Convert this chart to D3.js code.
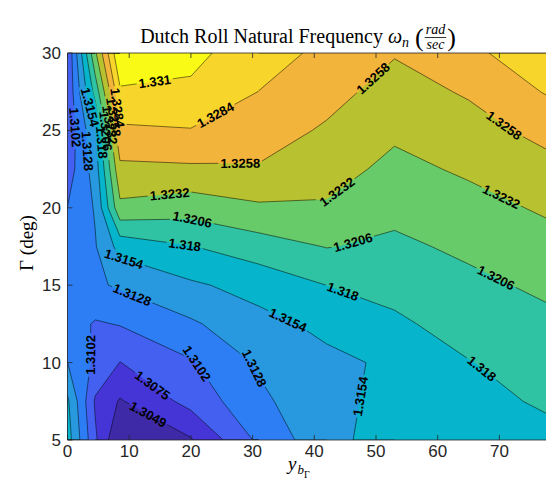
<!DOCTYPE html>
<html><head><meta charset="utf-8">
<script src="https://cdn.jsdelivr.net/npm/d3@7"></script>
<style>body{margin:0;background:#fff} svg{display:block}</style>
</head><body><svg id="c" width="546" height="484"></svg>
<script>
// ---- data ----
const xGrid = [0, 4.5, 8.5, 20, 31, 42, 53, 65, 80];
const yGrid = [5, 7.5, 10, 12.5, 15, 17.5, 20, 22.5, 25, 27.5, 30];
const zRow05  = [1.3166, 1.3080, 1.3022, 1.3047, 1.3107, 1.3146, 1.3166, 1.3170, 1.3176];
const zRow075 = [1.3158, 1.3072, 1.3047, 1.3084, 1.3122, 1.3147, 1.3161, 1.3174, 1.3184];
const zRow10  = [1.3128, 1.3096, 1.3075, 1.3099, 1.3131, 1.3148, 1.3158, 1.3179, 1.3193];
const zRow125 = [1.3115, 1.3099, 1.3103, 1.3124, 1.3146, 1.3160, 1.3176, 1.3189, 1.3202];
const zRow15  = [1.3110, 1.3124, 1.3131, 1.3150, 1.3163, 1.3180, 1.3187, 1.3200, 1.3213];
const zRow175 = [1.3106, 1.3126, 1.3163, 1.3179, 1.3194, 1.3207, 1.3201, 1.3211, 1.3225];
const zRow20  = [1.3102, 1.3130, 1.3226, 1.3217, 1.3228, 1.3229, 1.3213, 1.3223, 1.3238];
const zRow225 = [1.3088, 1.3140, 1.3252, 1.3254, 1.3256, 1.3243, 1.3225, 1.3236, 1.3253];
const zRow25  = [1.3082, 1.3150, 1.3280, 1.3283, 1.3270, 1.3255, 1.3237, 1.3248, 1.3270];
const zRow275 = [1.3080, 1.3190, 1.3306, 1.3306, 1.3284, 1.3267, 1.3248, 1.3261, 1.3291];
const zRow30  = [1.3078, 1.3228, 1.3337, 1.3317, 1.3296, 1.3278, 1.3260, 1.3279, 1.3303];
const zRows = [zRow05, zRow075, zRow10, zRow125, zRow15, zRow175, zRow20, zRow225, zRow25, zRow275, zRow30];

const levels = [1.30494, 1.30755, 1.31016, 1.31277, 1.31538, 1.31799, 1.32060, 1.32321, 1.32582, 1.32843, 1.33104];
const levelText = ["1.3049","1.3075","1.3102","1.3128","1.3154","1.318","1.3206","1.3232","1.3258","1.3284","1.331"];
const fillColors = ["#3e2aa6","#4635d6","#4460f0","#2d7ef5","#2898df","#06b4cb","#2fc3a3","#68cb6a","#b8c12f","#f3b43b","#f8d52b","#f9fa15"];
const xTicks = [0,10,20,30,40,50,60,70];
const yTicks = [5,10,15,20,25,30];
// label spots: [level index, approx x, approx y]
const labelSpots = [[10,14.2,28.0],[9,22.6,27.0],[8,49.0,28.6],[8,70.9,25.4],[8,28.0,22.5],
  [7,43.4,21.2],[7,70.9,21.2],[7,16.6,20.7],[6,20.3,19.4],[6,46.6,17.3],[6,70.1,16.0],
  [5,19.0,17.6],[5,45.0,15.0],[5,67.7,9.9],[4,9.3,16.9],[4,35.3,12.4],[4,47.8,7.8],
  [3,10.5,14.4],[3,33.1,10.2],[2,3.3,10.5],[2,22.3,10.3],[2,1.2,25.2],[1,15.0,9.2],[0,13.4,6.9],
  [4,3.6,26.5],[3,4.5,23.7],[9,8.8,26.5],[8,8.2,25.9],[7,7.7,25.4],[6,7.4,25.0],[5,7.7,24.3]];

// ---- layout ----
const svg = d3.select("#c");
const xs = d3.scaleLinear().domain([0,80]).range([67.5,561.1]);
const ys = d3.scaleLinear().domain([5,30]).range([440,53]);
const axisColor = "#262626";

svg.append("defs").append("clipPath").attr("id","pc").append("rect")
  .attr("x",xs(0)).attr("y",ys(30)).attr("width",xs(80)-xs(0)).attr("height",ys(5)-ys(30));
const plot = svg.append("g").attr("clip-path","url(#pc)");

const nx = xGrid.length, ny = yGrid.length;
const values = [].concat(...zRows);
const cs = d3.contours().size([nx,ny]).thresholds(levels)(values);
function gx(u){const t=Math.max(0,Math.min(nx-1,u-0.5));const i=Math.min(nx-2,Math.floor(t));return xGrid[i]+(t-i)*(xGrid[i+1]-xGrid[i]);}
function gy(v){const t=Math.max(0,Math.min(ny-1,v-0.5));const i=Math.min(ny-2,Math.floor(t));return yGrid[i]+(t-i)*(yGrid[i+1]-yGrid[i]);}
function P(p){return [xs(gx(p[0])), ys(gy(p[1]))];}

// fills
plot.append("rect").attr("x",xs(0)).attr("y",ys(30)).attr("width",xs(80)-xs(0)).attr("height",ys(5)-ys(30)).attr("fill",fillColors[0]);
cs.forEach((c,k)=>{
  let d="";
  c.coordinates.forEach(poly=>poly.forEach(ring=>{d+="M"+ring.map(p=>P(p).map(v=>v.toFixed(2)).join(",")).join("L")+"Z";}));
  plot.append("path").attr("d",d).attr("fill",fillColors[k+1]).attr("fill-rule","evenodd")
    .attr("stroke",fillColors[k+1]).attr("stroke-width",0.3);
});

// line segments (interior only)
function isB(a,b){return (a[0]===0&&b[0]===0)||(a[0]===nx&&b[0]===nx)||(a[1]===0&&b[1]===0)||(a[1]===ny&&b[1]===ny);}
const segs = cs.map(c=>{
  const pieces=[];
  c.coordinates.forEach(poly=>poly.forEach(ring=>{
    let cur=null;
    for(let i=0;i<ring.length-1;i++){
      const a=ring[i],b=ring[i+1];
      if(isB(a,b)){cur=null;continue;}
      if(!cur){cur=[P(a)];pieces.push(cur);}
      cur.push(P(b));
    }
  }));
  return pieces;
});

// mask for label gaps
const mask = svg.select("defs").append("mask").attr("id","lm").attr("maskUnits","userSpaceOnUse")
  .attr("x",0).attr("y",0).attr("width",546).attr("height",484);
mask.append("rect").attr("width",546).attr("height",484).attr("fill","#fff");

const lineG = plot.append("g").attr("mask","url(#lm)");
segs.forEach(pieces=>pieces.forEach(pc=>{
  lineG.append("path").attr("d","M"+pc.map(p=>p.map(v=>v.toFixed(2)).join(",")).join("L"))
    .attr("fill","none").attr("stroke","#000").attr("stroke-width",0.6).attr("stroke-opacity",0.85);
}));

// labels
const labG = plot.append("g");
labelSpots.forEach(([k,lx,ly])=>{
  const tx=xs(lx), ty=ys(ly);
  let best=null;
  segs[k].forEach(pc=>{
    for(let i=0;i<pc.length-1;i++){
      const a=pc[i],b=pc[i+1];
      const dx=b[0]-a[0],dy=b[1]-a[1];const L2=dx*dx+dy*dy; if(L2<1e-9)continue;
      let t=((tx-a[0])*dx+(ty-a[1])*dy)/L2; t=Math.max(0,Math.min(1,t));
      const px=a[0]+t*dx,py=a[1]+t*dy;const dd=(px-tx)**2+(py-ty)**2;
      if(!best||dd<best.dd)best={dd,px,py,ang:Math.atan2(dy,dx)*180/Math.PI};
    }
  });
  if(!best)return;
  let a=best.ang; if(a>90)a-=180; if(a<=-90)a+=180;
  const t=labG.append("text").attr("transform",`translate(${best.px},${best.py}) rotate(${a})`)
    .attr("text-anchor","middle").attr("dy","0.36em")
    .style("font-family","'Liberation Sans', Arial, sans-serif").style("font-size","13px").style("font-weight","bold")
    .attr("fill","#000").text(levelText[k]);
  const w=t.node().getComputedTextLength();
  mask.append("rect").attr("x",-w/2-2).attr("y",-6.5).attr("width",w+4).attr("height",13)
    .attr("transform",`translate(${best.px},${best.py}) rotate(${a})`).attr("fill","#000");
});

// axes box and ticks
const ax = svg.append("g").attr("stroke",axisColor).attr("stroke-width",0.8).attr("fill","none");
ax.append("line").attr("x1",xs(0)).attr("x2",546).attr("y1",ys(5)).attr("y2",ys(5));
ax.append("line").attr("x1",xs(0)).attr("x2",546).attr("y1",ys(30)).attr("y2",ys(30));
ax.append("line").attr("x1",xs(0)).attr("x2",xs(0)).attr("y1",ys(30)).attr("y2",ys(5));
xTicks.forEach(v=>{
  ax.append("line").attr("x1",xs(v)).attr("x2",xs(v)).attr("y1",ys(5)).attr("y2",ys(5)-5);
  ax.append("line").attr("x1",xs(v)).attr("x2",xs(v)).attr("y1",ys(30)).attr("y2",ys(30)+5);
});
yTicks.forEach(v=>{
  ax.append("line").attr("x1",xs(0)).attr("x2",xs(0)+5).attr("y1",ys(v)).attr("y2",ys(v));
});
const tickFont = "'Liberation Sans', Arial, sans-serif";
xTicks.forEach(v=>{
  svg.append("text").attr("x",xs(v)).attr("y",457).attr("text-anchor","middle")
    .style("font-family",tickFont).style("font-size","17px").attr("fill",axisColor).text(v);
});
yTicks.forEach(v=>{
  svg.append("text").attr("x",61).attr("y",ys(v)+6).attr("text-anchor","end")
    .style("font-family",tickFont).style("font-size","17px").attr("fill",axisColor).text(v);
});

// title
const serif = "'Liberation Serif', 'Times New Roman', serif";
const tg = svg.append("g");
let cx = 0;
function put(str, size, y, italic){
  const t=tg.append("text").attr("x",cx).attr("y",y).style("font-family",serif).style("font-size",size+"px")
    .style("font-style",italic?"italic":"normal").attr("fill","#000").text(str);
  const w=t.node().getComputedTextLength(); cx+=w; return w;
}
put("Dutch Roll Natural Frequency",20,43,false);
cx+=5;
put("ω",20,43,true);
put("n",14,47,true);
cx+=6;
const lp=tg.append("text").attr("x",cx).attr("y",46).style("font-family",serif).style("font-size","26px").attr("fill","#000").text("(");
cx+=lp.node().getComputedTextLength()+1;
const n1=tg.append("text").attr("y",33.5).style("font-family",serif).style("font-size","14px").style("font-style","italic").attr("text-anchor","middle").attr("fill","#000").text("rad");
const n2=tg.append("text").attr("y",48.5).style("font-family",serif).style("font-size","14px").style("font-style","italic").attr("text-anchor","middle").attr("fill","#000").text("sec");
const fw=Math.max(n1.node().getComputedTextLength(),n2.node().getComputedTextLength())+2;
n1.attr("x",cx+fw/2); n2.attr("x",cx+fw/2);
tg.append("line").attr("x1",cx).attr("x2",cx+fw).attr("y1",37.5).attr("y2",37.5).attr("stroke","#000").attr("stroke-width",0.8);
cx+=fw+1;
const rp=tg.append("text").attr("x",cx).attr("y",46).style("font-family",serif).style("font-size","26px").attr("fill","#000").text(")");
cx+=rp.node().getComputedTextLength();
tg.attr("transform",`translate(${298-cx/2},0)`);

// y label
svg.append("text").attr("transform","translate(33,243) rotate(-90)").attr("text-anchor","middle")
  .style("font-family",serif).style("font-size","19px").attr("fill","#000").text("Γ (deg)");
// x label
const xl = svg.append("g").attr("transform","translate(288,470)");
xl.append("text").attr("x",0).attr("y",0).style("font-family",serif).style("font-size","19px").style("font-style","italic").text("y");
xl.append("text").attr("x",9.5).attr("y",4).style("font-family",serif).style("font-size","13px").style("font-style","italic").text("b");
xl.append("text").attr("x",16).attr("y",8).style("font-family",serif).style("font-size","10px").text("Γ");
</script></body></html>
